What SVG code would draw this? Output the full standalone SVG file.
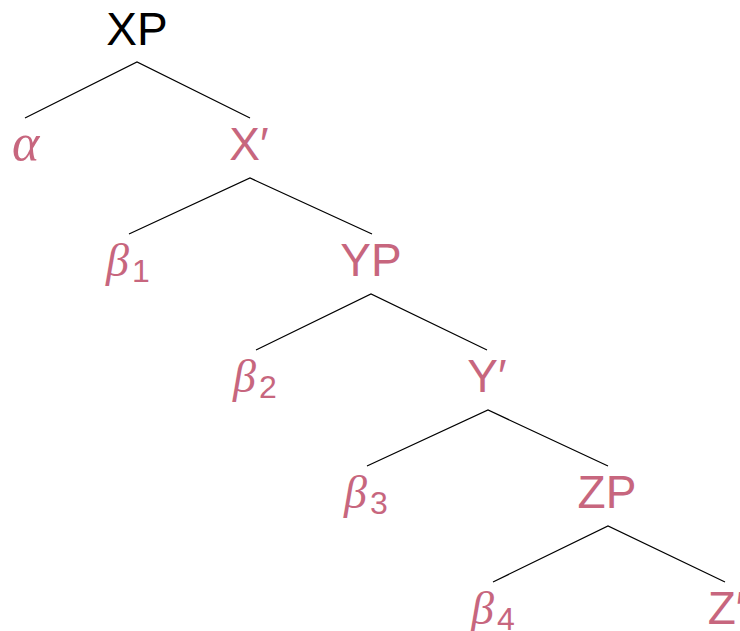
<svg xmlns="http://www.w3.org/2000/svg" width="740" height="631" viewBox="0 0 740 631">
<style>
.lbl{font-family:"Liberation Sans",Arial,"DejaVu Sans",sans-serif;font-size:46px;text-anchor:middle;fill:#c7667e}
.root{fill:#000}
.gr{font-family:"Liberation Serif","DejaVu Serif",serif;font-style:italic;font-size:46px;fill:#c7667e}
.sub{font-family:"Liberation Sans",Arial,sans-serif;font-style:normal;font-size:32px}
.edge{stroke:#000;stroke-width:1.2;fill:none}
</style>
<rect width="740" height="631" fill="#fff"/>
<g id="connectors">
<path class="edge" d="M25,118 L137,62 L250,118"/>
<path class="edge" d="M129,234 L250,178 L372,234"/>
<path class="edge" d="M256,350 L371,294 L487,350"/>
<path class="edge" d="M367,466 L488,410 L608,466"/>
<path class="edge" d="M493,582 L608,526 L725,582"/>
</g>
<g id="XP"><text class="lbl root" x="137" y="45">XP</text></g>
<g id="alpha"><text class="gr" x="12" y="160" style="font-size:52px">α</text></g>
<g id="Xbar"><text class="lbl" x="249" y="160">X′</text></g>
<g id="beta1"><text class="gr" x="106" y="276">β<tspan class="sub" dx="3" dy="6">1</tspan></text></g>
<g id="YP"><text class="lbl" x="371" y="276">YP</text></g>
<g id="beta2"><text class="gr" x="233" y="392">β<tspan class="sub" dx="3" dy="6">2</tspan></text></g>
<g id="Ybar"><text class="lbl" x="487" y="392">Y′</text></g>
<g id="beta3"><text class="gr" x="344" y="508">β<tspan class="sub" dx="3" dy="6">3</tspan></text></g>
<g id="ZP"><text class="lbl" x="607" y="508">ZP</text></g>
<g id="beta4"><text class="gr" x="471" y="624">β<tspan class="sub" dx="3" dy="6">4</tspan></text></g>
<g id="Zbar"><text class="lbl" x="726" y="624">Z′</text></g>
</svg>
